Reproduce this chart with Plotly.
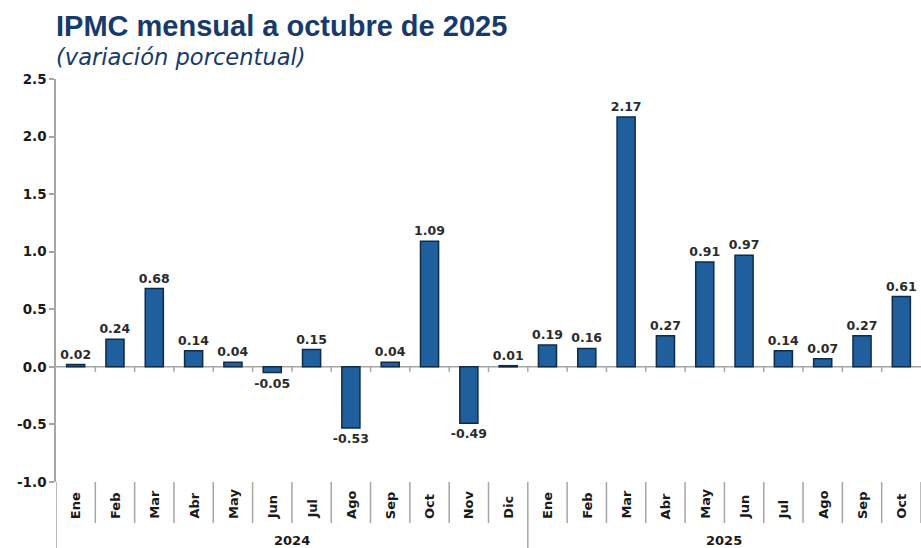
import plotly.graph_objects as go

months = ["Ene", "Feb", "Mar", "Abr", "May", "Jun", "Jul", "Ago", "Sep", "Oct", "Nov", "Dic",
          "Ene", "Feb", "Mar", "Abr", "May", "Jun", "Jul", "Ago", "Sep", "Oct"]
years = ["2024"] * 12 + ["2025"] * 10
values_2024 = [0.02, 0.24, 0.68, 0.14, 0.04, -0.05, 0.15, -0.53, 0.04, 1.09, -0.49, 0.01]
values_2025 = [0.19, 0.16, 2.17, 0.27, 0.91, 0.97, 0.14, 0.07, 0.27, 0.61]
values = values_2024 + values_2025
y_ticks = [-1.0, -0.5, 0.0, 0.5, 1.0, 1.5, 2.0, 2.5]

x = list(range(len(values)))
FONT = "DejaVu Sans"
NAVY = "#173a6d"
GRAY = "#a6a6a6"

fig = go.Figure()
fig.add_trace(go.Bar(
    x=x, y=values,
    width=0.46,
    marker=dict(color="#1f5f9e", line=dict(color="#0f2b48", width=1.5)),
    text=[f"{v:.2f}" for v in values],
    textposition="outside",
    constraintext="none",
    textfont=dict(family=FONT, size=12.5, color="#2b2b2b", weight="bold"),
    cliponaxis=False,
    hoverinfo="skip",
))

shapes = []
n = len(values)
# zero line
shapes.append(dict(type="line", xref="x", yref="y", x0=-0.5, x1=n - 0.5, y0=0, y1=0,
                   line=dict(color=GRAY, width=1.5), layer="below"))
plot_h = 548 - 79 - 66
for i in range(n + 1):
    b = i - 0.5
    # small ticks on zero line
    if 0 < i < n:
        shapes.append(dict(type="line", xref="x", yref="y", x0=b, x1=b, y0=0, y1=-5 / 115,
                           line=dict(color=GRAY, width=1.5)))
    # separators in label area
    long_sep = (i == 0) or (i == 12)
    y_end = -66 / plot_h if long_sep else -41 / plot_h
    shapes.append(dict(type="line", xref="x", yref="paper", x0=b, x1=b, y0=0, y1=y_end,
                       line=dict(color=GRAY, width=1.5)))

annotations = [
    dict(text="<b>IPMC mensual a octubre de 2025</b>", xref="paper", yref="paper",
         x=0, y=1, xshift=-2, yshift=79 - 26, xanchor="left", yanchor="middle",
         showarrow=False, font=dict(family="Liberation Sans", size=29, color=NAVY)),
    dict(text="<i>(variación porcentual)</i>", xref="paper", yref="paper",
         x=0, y=1, xshift=-2, yshift=79 - 57, xanchor="left", yanchor="middle",
         showarrow=False, font=dict(family="DejaVu Sans", size=22.6, color=NAVY)),
]
# month labels
for i, m in enumerate(months):
    annotations.append(dict(text=f"<b>{m}</b>", x=i, xref="x", y=0, yref="paper",
                            yshift=-39, textangle=-90, showarrow=False,
                            font=dict(family=FONT, size=13, color="#1a1a1a")))
# year labels
for yr in ["2024", "2025"]:
    idx = [i for i, v in enumerate(years) if v == yr]
    annotations.append(dict(text=f"<b>{yr}</b>", x=(idx[0] + idx[-1]) / 2, xref="x",
                            y=0, yref="paper", yshift=-68, showarrow=False,
                            font=dict(family=FONT, size=13, color="#1a1a1a")))

fig.update_layout(
    width=921, height=548,
    margin=dict(l=56, r=0, t=79, b=66),
    paper_bgcolor="white", plot_bgcolor="white",
    showlegend=False,
    shapes=shapes,
    annotations=annotations,
    xaxis=dict(range=[-0.5, n - 0.5], showticklabels=False, showgrid=False,
               zeroline=False, showline=False, ticks=""),
    yaxis=dict(range=[-1.0, 2.5], tickvals=y_ticks, ticktext=[f"<b>{v:.1f}</b>" for v in y_ticks],
               showgrid=False, zeroline=False, showline=True, linecolor=GRAY, linewidth=1.5,
               ticks="outside", ticklen=5, tickcolor=GRAY, tickwidth=1.5,
               tickfont=dict(family=FONT, size=13.5, color="#1a1a1a")),
)

fig.write_html("out.html", config={"displayModeBar": False},
               post_script="document.body.style.margin='0';document.body.style.padding='0';")
